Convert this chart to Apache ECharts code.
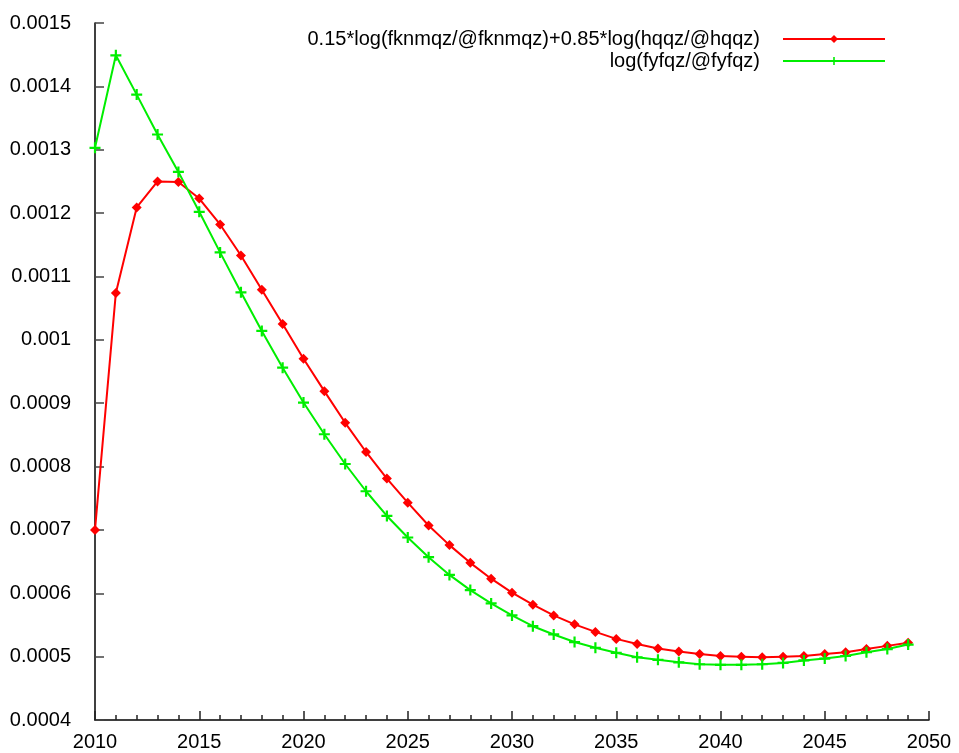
<!DOCTYPE html>
<html>
<head>
<meta charset="utf-8">
<script src="https://cdn.jsdelivr.net/npm/echarts@6/dist/echarts.min.js"></script>
<style>
  html, body { margin: 0; padding: 0; background: #fff; }
  #chart { width: 959px; height: 753px; }
</style>
</head>
<body>
<div id="chart"></div>
<script>
// data
const years = [2010, 2011, 2012, 2013, 2014, 2015, 2016, 2017, 2018, 2019,
  2020, 2021, 2022, 2023, 2024, 2025, 2026, 2027, 2028, 2029,
  2030, 2031, 2032, 2033, 2034, 2035, 2036, 2037, 2038, 2039,
  2040, 2041, 2042, 2043, 2044, 2045, 2046, 2047, 2048, 2049];

const mixName = "0.15*log(fknmqz/@fknmqz)+0.85*log(hqqz/@hqqz)";
const mixValues = [0.000700, 0.001074, 0.001209, 0.001250, 0.001249, 0.001223, 0.001182, 0.001133, 0.001079, 0.001025,
  0.000970, 0.000919, 0.000869, 0.000823, 0.000781, 0.000743, 0.000707, 0.000676, 0.000648, 0.000623,
  0.000601, 0.000582, 0.000565, 0.000551, 0.000539, 0.000528, 0.000520, 0.000513, 0.000508, 0.000504,
  0.000501, 0.000500, 0.000499, 0.000500, 0.000501, 0.000504, 0.000507, 0.000512, 0.000517, 0.000522];

const fyName = "log(fyfqz/@fyfqz)";
const fyValues = [0.001303, 0.001449, 0.001387, 0.001324, 0.001265, 0.001202, 0.001138, 0.001075, 0.001014, 0.000956,
  0.000901, 0.000851, 0.000804, 0.000761, 0.000722, 0.000688, 0.000657, 0.000629, 0.000605, 0.000584,
  0.000565, 0.000548, 0.000535, 0.000523, 0.000514, 0.000506, 0.000499, 0.000495, 0.000491, 0.000488,
  0.000487, 0.000487, 0.000488, 0.000490, 0.000494, 0.000497, 0.000501, 0.000507, 0.000512, 0.000519];

const font = "'Liberation Sans', Arial, sans-serif";
const plusPath = "path://M4,0h2v4h4v2h-4v4h-2v-4h-4v-2h4z";

const chart = echarts.init(document.getElementById("chart"));

const pairs = (vals) => years.map((y, i) => [y, vals[i]]);

const legendBase = {
  right: 73,
  padding: 0,
  align: "right",
  itemWidth: 102,
  itemHeight: 10,
  itemGap: 0,
  textStyle: { fontFamily: font, fontSize: 20, color: "#000", padding: [0, 18, 0, 0] },
  selectedMode: false,
};

const option = {
  animation: false,
  backgroundColor: "#fff",
  grid: { left: 95, right: 30, top: 23, bottom: 33 },
  legend: [
    Object.assign({}, legendBase, { top: 29, data: [mixName] }),
    Object.assign({}, legendBase, { top: 51, data: [fyName] }),
  ],
  xAxis: {
    type: "value",
    min: 2010,
    max: 2050,
    interval: 5,
    axisLine: { show: true, onZero: false, lineStyle: { color: "#000", width: 1.5 } },
    axisTick: { show: true, inside: true, length: 9, lineStyle: { color: "#222", width: 1.5 } },
    minorTick: { show: true, splitNumber: 5, length: 5, lineStyle: { color: "#222", width: 1.5 } },
    splitLine: { show: false },
    axisLabel: {
      fontFamily: font, fontSize: 20, color: "#000", margin: 12,
      formatter: (v) => String(v),
    },
  },
  yAxis: {
    type: "value",
    min: 0.0004,
    max: 0.0015,
    interval: 0.0001,
    axisLine: { show: true, onZero: false, lineStyle: { color: "#000", width: 1.5 } },
    axisTick: { show: true, inside: true, length: 9, lineStyle: { color: "#444", width: 1.5 } },
    splitLine: { show: false },
    axisLabel: { fontFamily: font, fontSize: 20, color: "#000", margin: 24 },
  },
  series: [
    {
      name: mixName,
      type: "line",
      data: pairs(mixValues),
      clip: false,
      symbol: "diamond",
      symbolSize: 10,
      showAllSymbol: true,
      lineStyle: { color: "#ff0000", width: 2 },
      itemStyle: { color: "#ff0000" },
    },
    {
      name: fyName,
      type: "line",
      data: pairs(fyValues),
      clip: false,
      symbol: plusPath,
      symbolSize: 11,
      showAllSymbol: true,
      lineStyle: { color: "#00ee00", width: 2 },
      itemStyle: { color: "#00ee00" },
    },
  ],
};

chart.setOption(option);
</script>
</body>
</html>
